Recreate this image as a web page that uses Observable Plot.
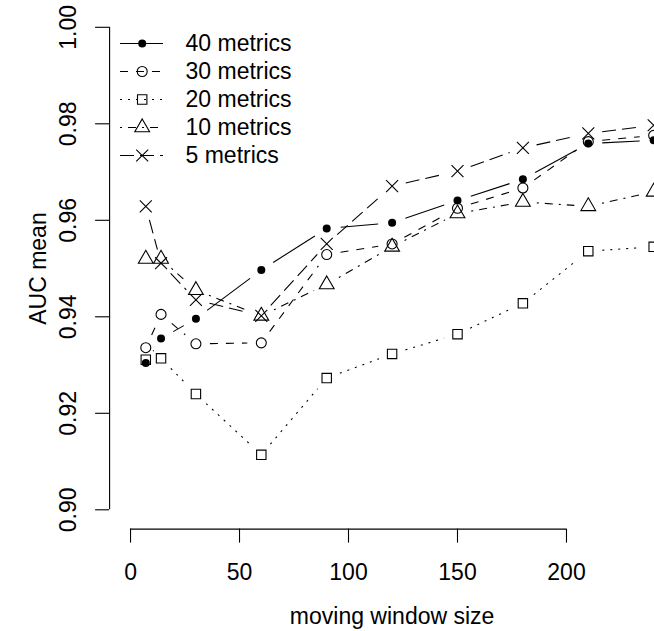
<!DOCTYPE html>
<html>
<head>
<meta charset="utf-8">
<script src="https://cdn.jsdelivr.net/npm/d3@7"></script>
<script src="https://cdn.jsdelivr.net/npm/@observablehq/plot@0.6"></script>
<style>
html, body { margin: 0; padding: 0; background: #fff; overflow: hidden; }
#wrap { position: relative; width: 654px; height: 631px; overflow: hidden; }
#wrap svg { position: absolute; left: 0; top: 0; }
</style>
</head>
<body>
<div id="wrap"></div>
<script>
// ---- data ----
const windowSizes = [7, 14, 30, 60, 90, 120, 150, 180, 210, 240];
const metrics40 = [0.9304, 0.9355, 0.9396, 0.9497, 0.9583, 0.9595, 0.9641, 0.9685, 0.9759, 0.9766];
const metrics30 = [0.9336, 0.9405, 0.9344, 0.9346, 0.9529, 0.9551, 0.9625, 0.9667, 0.9763, 0.9776];
const metrics20 = [0.9311, 0.9314, 0.9240, 0.9114, 0.9273, 0.9323, 0.9364, 0.9428, 0.9536, 0.9545];
const metrics10 = [0.9520, 0.9520, 0.9455, 0.9402, 0.9467, 0.9545, 0.9614, 0.9638, 0.9629, 0.9659];
const metrics5  = [0.9629, 0.9511, 0.9435, 0.9402, 0.9551, 0.9671, 0.9702, 0.9750, 0.9780, 0.9797];
const seriesNames = ["40 metrics", "30 metrics", "20 metrics", "10 metrics", "5 metrics"];
const xTicks = [0, 50, 100, 150, 200];
const yTicks = [0.90, 0.92, 0.94, 0.96, 0.98, 1.00];
const xLabel = "moving window size";
const yLabel = "AUC mean";

// ---- styling / layout ----
const seriesValues = [metrics40, metrics30, metrics20, metrics10, metrics5];
const styles = [
  {symbol: "circle",   r: 4,   fill: "black", stroke: "none",  dash: undefined},
  {symbol: "circle",   r: 5,   fill: "none",  stroke: "black", dash: "8,8"},
  {symbol: "square",   r: 5.3, fill: "none",  stroke: "black", dash: "2,6"},
  {symbol: "triangle", r: 5.5, fill: "none",  stroke: "black", dash: "2,6,8,6"},
  {symbol: "times",    r: 5.5, fill: "none",  stroke: "black", dash: "14,6"}
];
const W = 654, H = 631;
const FONT = "'Liberation Sans', Arial, Helvetica, sans-serif";
const FS = 23;
const LW = 1.1;
const xlim = [0, 240], ylim = [0.90, 1.00];
const xDom = [xlim[0] - 0.04 * (xlim[1] - xlim[0]), xlim[1] + 0.04 * (xlim[1] - xlim[0])];
const yDom = [ylim[0] - 0.04 * (ylim[1] - ylim[0]), ylim[1] + 0.04 * (ylim[1] - ylim[0])];
const pLeft = 109.1, pRight = 674.1, pTop = 7.5, pBottom = 528.6;
const txt = {fontSize: FS, fill: "black", textAnchor: "middle", lineAnchor: "middle"};

const marks = [];
// axis lines (R style: from first to last tick)
marks.push(Plot.ruleY([yDom[0]], {x1: xTicks[0], x2: xTicks[xTicks.length - 1], stroke: "black", strokeWidth: LW}));
marks.push(Plot.ruleX([xDom[0]], {y1: yTicks[0], y2: yTicks[yTicks.length - 1], stroke: "black", strokeWidth: LW}));
marks.push(Plot.axisX({ticks: xTicks, tickSize: 14, fill: "none", label: null, stroke: "black", strokeWidth: LW}));
marks.push(Plot.axisY({ticks: yTicks, tickSize: 14, fill: "none", label: null, stroke: "black", strokeWidth: LW}));
// tick labels
marks.push(Plot.text(xTicks, {...txt, x: d => d, text: d => String(d), frameAnchor: "bottom", dy: 44}));
marks.push(Plot.text(yTicks, {...txt, y: d => d, text: d => d.toFixed(2), frameAnchor: "left", dx: -40.8, rotate: -90}));
// axis titles
marks.push(Plot.text([xLabel], {...txt, x: (xDom[0] + xDom[1]) / 2, text: d => d, frameAnchor: "bottom", dy: 87.4}));
marks.push(Plot.text([yLabel], {...txt, y: (ylim[0] + ylim[1]) / 2, text: d => d, frameAnchor: "left", dx: -70.5, rotate: -90}));

// series: type "b" lines (gaps around points) + points
seriesValues.forEach((vals, s) => {
  const st = styles[s];
  const pts = windowSizes.map((x, i) => ({x, y: vals[i]}));
  const segs = pts.slice(1).map((p, i) => ({x1: pts[i].x, y1: pts[i].y, x2: p.x, y2: p.y}));
  marks.push(Plot.arrow(segs, {
    x1: "x1", y1: "y1", x2: "x2", y2: "y2",
    headLength: 0, insetStart: 14, insetEnd: 14,
    stroke: "black", strokeWidth: LW, strokeLinecap: "butt",
    strokeDasharray: st.dash
  }));
  marks.push(Plot.dot(pts, {
    x: "x", y: "y", symbol: st.symbol, r: st.r,
    fill: st.fill, stroke: st.stroke, strokeWidth: LW
  }));
});

const chart = Plot.plot({
  width: W, height: H,
  marginLeft: pLeft, marginRight: 0, marginTop: pTop, marginBottom: H - pBottom,
  x: {domain: xDom, range: [pLeft, pRight], axis: null},
  y: {domain: yDom, range: [pBottom, pTop], axis: null},
  style: {fontFamily: FONT, background: "white", overflow: "hidden", color: "black"},
  marks
});

// legend overlay
const lmarks = [];
seriesNames.forEach((name, s) => {
  const st = styles[s];
  lmarks.push(Plot.ruleY([name], {y: d => d, x1: 120, x2: 163, stroke: "black", strokeWidth: LW, strokeDasharray: st.dash}));
  lmarks.push(Plot.dot([name], {x: 141.7, y: d => d, symbol: st.symbol, r: st.r, fill: st.fill, stroke: st.stroke, strokeWidth: LW}));
});
lmarks.push(Plot.text(seriesNames, {x: 185, y: d => d, text: d => d, textAnchor: "start", lineAnchor: "middle", fontSize: FS, fill: "black"}));

const legend = Plot.plot({
  width: W, height: 190, margin: 0,
  axis: null,
  x: {type: "identity"},
  y: {type: "point", domain: seriesNames, range: [42.7, 155.1], padding: 0},
  style: {fontFamily: FONT, background: "transparent", overflow: "visible", color: "black"},
  marks: lmarks
});

const wrap = document.getElementById("wrap");
wrap.appendChild(chart);
wrap.appendChild(legend);
</script>
</body>
</html>
